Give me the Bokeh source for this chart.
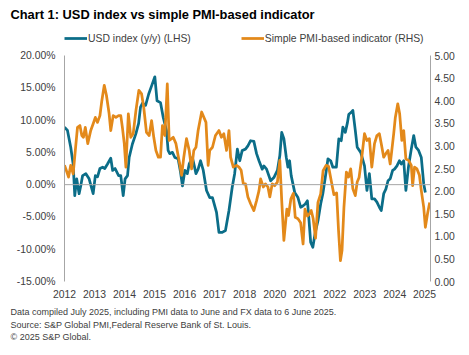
from bokeh.plotting import figure
from bokeh.models import (Range1d, LinearAxis, FixedTicker, PrintfTickFormatter,
                          Span, Legend, LegendItem, Label)
from bokeh.layouts import column
from bokeh.embed import file_html
from bokeh.resources import INLINE

# ---------------- data ----------------
title_text = "Chart 1: USD index vs simple PMI-based indicator"
usd_name = "USD index (y/y) (LHS)"
pmi_name = "Simple PMI-based indicator (RHS)"
notes = [
    "Data compiled July 2025, including PMI data to June and FX data to 6 June 2025.",
    "Source: S&P Global PMI,Federal Reserve Bank of St. Louis.",
    "\u00a9 2025 S&P Global.",
]

usd_x = [2012.00, 2012.11, 2012.23, 2012.32, 2012.38, 2012.45, 2012.54, 2012.60, 2012.67, 2012.79, 2012.91,
         2013.06, 2013.14, 2013.22, 2013.31, 2013.41, 2013.49, 2013.59, 2013.71, 2013.78, 2013.87,
         2014.00, 2014.08, 2014.17, 2014.24, 2014.33, 2014.39, 2014.51, 2014.64, 2014.74, 2014.81, 2014.88,
         2015.00, 2015.11, 2015.22, 2015.34, 2015.42, 2015.55, 2015.65, 2015.77, 2015.83, 2015.89, 2015.99,
         2016.08, 2016.20, 2016.29, 2016.36, 2016.45, 2016.54, 2016.61, 2016.73, 2016.86, 2016.94,
         2017.03, 2017.13, 2017.25, 2017.37, 2017.47, 2017.62, 2017.71, 2017.83, 2017.95,
         2018.08, 2018.20, 2018.29, 2018.39, 2018.48, 2018.57, 2018.69, 2018.78, 2018.88,
         2019.00, 2019.10, 2019.19, 2019.31, 2019.37, 2019.47, 2019.62, 2019.74, 2019.87, 2019.96,
         2020.03, 2020.11, 2020.20, 2020.26, 2020.32, 2020.38, 2020.51, 2020.63, 2020.73, 2020.81, 2020.90, 2020.98,
         2021.02, 2021.10, 2021.18, 2021.27, 2021.37, 2021.47, 2021.55, 2021.64, 2021.74, 2021.84, 2021.92,
         2022.05, 2022.14, 2022.23, 2022.29, 2022.38, 2022.46, 2022.51, 2022.60, 2022.66, 2022.75, 2022.82, 2022.95,
         2023.09, 2023.18, 2023.27, 2023.36, 2023.46, 2023.55, 2023.64, 2023.71, 2023.80, 2023.88, 2023.96,
         2024.04, 2024.13, 2024.20, 2024.29, 2024.38, 2024.45, 2024.54, 2024.62, 2024.72, 2024.82, 2024.91, 2024.99,
         2025.09, 2025.19, 2025.28, 2025.34]
usd_y = [8.9, 8.4, 5.8, 3.2, -1.7, 0.9, -1.4, -0.2, 1.4, 1.7, 0.9,
         -1.4, 1.4, 1.2, 2.5, 2.7, 2.5, 3.2, 4.1, 2.2, 2.5,
         1.4, 1.4, -1.7, 0.9, 1.4, 4.2, 6.3, 7.9, 9.5, 12.0, 12.6,
         12.3, 14.0, 15.3, 16.7, 13.0, 12.7, 10.4, 8.4, 5.3, 4.8, 5.0,
         4.2, 4.0, 1.9, -0.2, 2.2, 1.7, 3.2, 4.2, 1.7, 2.4,
         3.7, 2.2, -0.9, -2.0, -2.0, -4.3, -7.4, -7.4, -7.1,
         -4.0, -0.4, 1.7, 5.5, 3.7, 5.3, 5.5, 6.0, 6.8,
         6.7, 4.8, 3.7, 2.4, 2.9, 2.4, 0.6, 1.1, 2.2, 4.5,
         8.1, 7.1, 4.2, 2.7, 3.7, 1.4, -1.2, -2.0, -3.5, -3.3, -3.0, -2.5,
         -4.5, -8.9, -9.7, -7.4, -5.6, -3.0, -1.4, 1.1, 4.0, 3.7, 2.7,
         2.7, 7.1, 6.8, 8.9, 8.1, 9.6, 10.9, 11.2, 11.5, 8.4, 5.8, 5.0,
         2.9, -0.9, 1.7, -2.2, -2.2, -2.7, -3.5, -4.0, -1.4, -0.7, 0.6,
         0.9, 2.2, 2.4, 2.9, 3.7, 3.2, 3.7, -0.9, 2.9, 5.5, 7.6, 5.8,
         5.3, 4.2, 0.1, -1.2]

pmi_x = [2012.00, 2012.05, 2012.15, 2012.23, 2012.32, 2012.40, 2012.48, 2012.57, 2012.64, 2012.70, 2012.77, 2012.86, 2012.97,
         2013.06, 2013.14, 2013.22, 2013.31, 2013.38, 2013.47, 2013.55, 2013.65, 2013.71, 2013.80, 2013.90,
         2014.00, 2014.08, 2014.14, 2014.21, 2014.27, 2014.36, 2014.45, 2014.54, 2014.64, 2014.75, 2014.85, 2014.93,
         2015.03, 2015.13, 2015.22, 2015.30, 2015.38, 2015.47, 2015.55, 2015.62, 2015.71, 2015.80, 2015.87, 2015.96,
         2016.02, 2016.12, 2016.20, 2016.26, 2016.33, 2016.41, 2016.51, 2016.61, 2016.70, 2016.78, 2016.86, 2016.94,
         2017.07, 2017.23, 2017.31, 2017.37, 2017.47, 2017.58, 2017.71, 2017.80, 2017.89, 2017.99,
         2018.08, 2018.14, 2018.24, 2018.36, 2018.45, 2018.53, 2018.61, 2018.69, 2018.78, 2018.88,
         2019.00, 2019.10, 2019.19, 2019.25, 2019.35, 2019.43, 2019.52, 2019.59, 2019.68, 2019.77, 2019.87, 2019.96,
         2020.03, 2020.11, 2020.22, 2020.28, 2020.37, 2020.46, 2020.53, 2020.63, 2020.73, 2020.82, 2020.89, 2020.98,
         2021.06, 2021.12, 2021.19, 2021.28, 2021.37, 2021.47, 2021.56, 2021.67, 2021.76, 2021.86, 2021.96,
         2022.06, 2022.13, 2022.20, 2022.26, 2022.33, 2022.42, 2022.50, 2022.58, 2022.66, 2022.75, 2022.82, 2022.89, 2022.99,
         2023.09, 2023.18, 2023.27, 2023.36, 2023.46, 2023.55, 2023.64, 2023.71, 2023.80, 2023.88, 2023.96,
         2024.04, 2024.10, 2024.17, 2024.23, 2024.32, 2024.39, 2024.47, 2024.54, 2024.62, 2024.72, 2024.82, 2024.87, 2024.94,
         2025.03, 2025.12, 2025.19, 2025.28, 2025.34, 2025.42, 2025.50]
pmi_y = [2.57, 2.49, 2.31, 2.57, 2.38, 2.90, 3.41, 3.45, 3.23, 3.19, 3.41, 3.05, 3.34,
         3.49, 3.63, 3.52, 3.67, 4.00, 4.34, 4.12, 3.71, 3.34, 3.67, 3.63,
         3.67, 3.67, 3.41, 3.05, 2.53, 3.71, 3.19, 3.27, 3.78, 4.23, 4.15, 3.85,
         3.30, 3.23, 3.56, 3.19, 2.90, 2.75, 2.75, 3.45, 3.23, 4.37, 3.12, 3.16,
         3.19, 3.05, 2.79, 2.60, 2.35, 2.75, 3.16, 2.90, 2.49, 2.90, 2.97, 3.34,
         3.75, 3.52, 2.57, 2.90, 2.97, 3.23, 3.34, 3.19, 3.27, 2.90,
         3.34, 2.75, 2.53, 2.57, 2.53, 2.46, 2.16, 2.16, 1.87, 1.72,
         1.57, 1.79, 2.01, 2.27, 2.09, 2.16, 2.09, 1.87, 2.16, 2.12, 2.20, 2.68,
         1.79, 0.91, 1.60, 1.46, 1.83, 1.95, 1.42, 1.39, 1.30, 0.83, 1.60, 1.45,
         1.50, 1.57, 1.40, 0.96, 1.75, 1.94, 2.45, 2.57, 2.55, 2.23, 1.92,
         1.96, 1.13, 0.46, 0.69, 1.64, 2.42, 2.31, 2.49, 2.05, 1.90, 2.20, 2.30, 2.75,
         3.27, 3.12, 3.16, 2.53, 3.05, 3.23, 3.27, 3.05, 2.75, 2.83, 2.90,
         2.60, 2.90, 3.27, 3.63, 3.93, 3.71, 3.12, 3.34, 2.71, 2.68, 2.57, 2.12, 2.53,
         2.49, 2.35, 2.01, 1.64, 1.20, 1.50, 1.75]

x_tick_pos = [2012.00, 2013.11, 2014.22, 2015.33, 2016.44, 2017.55, 2018.66,
              2019.77, 2020.88, 2021.99, 2023.10, 2024.21, 2025.31]
x_tick_labels = ["2012", "2013", "2014", "2015", "2016", "2017", "2018",
                 "2020", "2021", "2022", "2023", "2024", "2025"]
left_ticks = [-15, -10, -5, 0, 5, 10, 15, 20]
right_ticks = [0, 0.5, 1, 1.5, 2, 2.5, 3, 3.5, 4, 4.5, 5]

# ---------------- styling ----------------
FONT = "Liberation Sans"
BLUE = "#0b6d88"
ORANGE = "#e3891a"
AXIS_GREY = "#a6a6a6"
TEXT_GREY = "#404040"
FS = "10.4px"
W = 469
TOP_H, MAIN_H, NOTE_H = 28, 273, 54


def blank(h):
    f = figure(width=W, height=h, output_backend="svg", toolbar_location=None,
               x_range=Range1d(0, 1), y_range=Range1d(0, 1),
               x_axis_location=None, y_axis_location=None, min_border=0,
               frame_align=False)
    f.outline_line_color = None
    f.grid.visible = False
    return f


# ---- title strip ----
top = blank(TOP_H)
top.add_layout(Label(x=10, y=TOP_H - 14, x_units="screen", y_units="screen", text=title_text,
                     text_font=FONT, text_font_size="12.85px", text_font_style="bold",
                     text_color="#000000", text_baseline="middle"))

# ---- main chart ----
# frame runs from the legend row (top) down to the -15% line; 20% sits 27px below frame top
p = figure(width=W, height=MAIN_H, output_backend="svg", toolbar_location=None,
           x_range=Range1d(2012.0, 2025.53), y_range=Range1d(-15, 20 + 27 * 35 / 226),
           min_border_left=64, min_border_right=39, min_border_top=0, min_border_bottom=20,
           x_axis_location=None, y_axis_location=None, frame_align=False)
p.extra_y_ranges = {"rhs": Range1d(0, 5 + 27 * 5 / 226)}
p.outline_line_color = None
p.grid.visible = False

la = LinearAxis(ticker=FixedTicker(ticks=left_ticks), bounds=(-15, 20),
                formatter=PrintfTickFormatter(format="%.2f%%"))
ra = LinearAxis(y_range_name="rhs", ticker=FixedTicker(ticks=right_ticks), bounds=(0, 5),
                formatter=PrintfTickFormatter(format="%.2f"))
ba = LinearAxis(ticker=FixedTicker(ticks=x_tick_pos),
                major_label_overrides={t: l for t, l in zip(x_tick_pos, x_tick_labels)})
for ax in (la, ra, ba):
    ax.major_tick_line_color = None
    ax.minor_tick_line_color = None
    ax.major_tick_out = 0
    ax.major_tick_in = 0
    ax.major_label_text_font = FONT
    ax.major_label_text_font_size = FS
    ax.major_label_text_color = TEXT_GREY
    ax.axis_line_color = AXIS_GREY
    ax.axis_line_width = 1
ba.axis_line_color = None
la.major_label_standoff = 9
ra.major_label_standoff = 4
ba.major_label_standoff = 8
p.add_layout(la, "left")
p.add_layout(ra, "right")
p.add_layout(ba, "below")

p.add_layout(Span(location=0, dimension="width", line_color=AXIS_GREY, line_width=1))

r_usd = p.line(usd_x, usd_y, line_color=BLUE, line_width=2.75, line_join="round")
r_pmi = p.line(pmi_x, pmi_y, line_color=ORANGE, line_width=2.75, line_join="round",
               y_range_name="rhs")

legend = Legend(items=[LegendItem(label=usd_name, renderers=[r_usd]),
                       LegendItem(label=pmi_name, renderers=[r_pmi])],
                orientation="horizontal", location=(0, MAIN_H - 20 - 16),
                label_text_font=FONT, label_text_font_size=FS, label_text_color=TEXT_GREY,
                glyph_width=23, glyph_height=12, label_height=12, label_standoff=1,
                spacing=50, padding=0, margin=0,
                border_line_color=None, background_fill_alpha=0)
p.add_layout(legend, "center")

# ---- notes strip ----
bot = blank(NOTE_H)
for i, t in enumerate(notes):
    bot.add_layout(Label(x=10, y=NOTE_H - 10.7 - 12.3 * i, x_units="screen", y_units="screen",
                         text=t, text_font=FONT, text_font_size="9px",
                         text_color=TEXT_GREY, text_baseline="middle"))

layout = column(top, p, bot, spacing=0)
open("out.html", "w").write(file_html(layout, INLINE))
